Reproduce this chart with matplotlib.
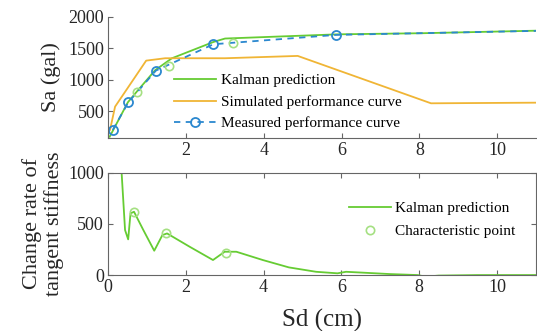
import matplotlib
matplotlib.use("Agg")
import matplotlib.pyplot as plt

plt.rcParams['font.family'] = ['Liberation Serif', 'DejaVu Serif']
plt.rcParams['mathtext.fontset'] = 'stix'

# ---- capacity curve (Sa vs Sd) ----
kalman_sd = [0.03, 0.5, 0.73, 1.2, 1.63, 2.7, 3.0, 5.9, 8.1, 11.0]
kalman_sa = [90, 640, 810, 1150, 1340, 1600, 1655, 1722, 1740, 1780]

sim_sd = [0.04, 0.17, 0.97, 1.46, 3.0, 4.87, 8.3, 11.0]
sim_sa = [200, 570, 1303, 1341, 1341, 1378, 623, 633]

meas_sd = [0.11, 0.51, 1.22, 2.70, 5.86, 11.0]
meas_sa = [198, 639, 1144, 1564, 1713, 1777]
meas_marker_sd = [0.11, 0.51, 1.22, 2.70, 5.86]
meas_marker_sa = [198, 639, 1144, 1564, 1713]

char_top_sd = [0.73, 1.56, 3.2]
char_top_sa = [809, 1223, 1580]

# ---- change rate of tangent stiffness ----
rate_sd = [0.30, 0.35, 0.44, 0.52, 0.58, 0.67, 0.91, 1.19, 1.40, 1.52, 2.1, 2.70,
           3.0, 3.3, 3.98, 4.65, 5.35, 5.9, 6.12, 6.63, 7.23, 7.96, 8.17, 8.5, 9.5, 11.0]
rate_val = [1400, 1010, 440, 349, 603, 619, 440, 238, 391, 407, 277, 147,
            228, 228, 147, 75, 32, 17, 32, 22, 10, 0, -16, -5, 0, 0]
char_sd = [0.67, 1.5, 3.04]
char_val = [619, 407, 212]

green = '#66CC33'
orange = '#F0B535'
blue = '#2B88CF'
light_green = '#A5E082'
axis_col = '#666666'
text_col = '#262626'

fig = plt.figure(figsize=(5.37, 3.31), dpi=100)
ax1 = fig.add_axes([0.202, 0.584, 0.796, 0.365])
ax2 = fig.add_axes([0.201, 0.169, 0.797, 0.309])

# top panel
ax1.plot(kalman_sd, kalman_sa, color=green, lw=1.3, label='Kalman prediction')
ax1.plot(sim_sd, sim_sa, color=orange, lw=1.3, label='Simulated performance curve')
ax1.plot(meas_sd, meas_sa, color=blue, lw=1.3, ls=(0, (3.5, 3)))
ax1.plot(meas_marker_sd, meas_marker_sa, ls='none', marker='o', ms=6.5,
         mfc='none', mec=blue, mew=1.3)
ax1.plot(char_top_sd, char_top_sa, ls='none', marker='o', ms=6,
         mfc='none', mec=light_green, mew=1.2)
meas_handle, = ax1.plot([], [], color=blue, lw=1.3, ls=(0, (3.5, 3)), marker='o',
                        ms=6.5, mfc='none', mec=blue, mew=1.3,
                        label='Measured performance curve')
ax1.set_xlim(0, 11)
ax1.set_ylim(75, 2000)
ax1.set_yticks([500, 1000, 1500, 2000])
ax1.set_xticks([0, 2, 4, 6, 8, 10])
ax1.set_xticklabels(['', '2', '4', '6', '8', '10'])
ax1.spines['top'].set_visible(False)
ax1.spines['right'].set_visible(False)
ax1.set_ylabel('Sa (gal)', fontsize=16, color=text_col, labelpad=5)
h, l = ax1.get_legend_handles_labels()
ax1.legend(h, l, loc='upper left', bbox_to_anchor=(0.14, 0.58), frameon=False,
           fontsize=11, handlelength=2.7, handletextpad=0.35, labelspacing=0.5,
           borderaxespad=0)

# bottom panel
ax2.plot(rate_sd, rate_val, color=green, lw=1.3, label='Kalman prediction')
ax2.plot(char_sd, char_val, ls='none', marker='o', ms=6, mfc='none',
         mec=light_green, mew=1.2, label='Characteristic point')
ax2.set_xlim(0, 11)
ax2.set_ylim(0, 1000)
ax2.set_yticks([0, 500, 1000])
ax2.set_xticks([0, 2, 4, 6, 8, 10])
ax2.set_xlabel('Sd (cm)', fontsize=18, color=text_col, labelpad=9)
ax2.set_ylabel('Change rate of\ntangent stiffness', fontsize=16, color=text_col,
               labelpad=3, linespacing=1.15)
ax2.legend(loc='upper left', bbox_to_anchor=(0.55, 0.78), frameon=False,
           fontsize=11, handlelength=2.7, handletextpad=0.3, labelspacing=0.6,
           borderaxespad=0)

for ax in (ax1, ax2):
    ax.tick_params(direction='in', length=3.5, width=0.8, colors=axis_col,
                   labelcolor=text_col, labelsize=13, pad=3)
    for s in ax.spines.values():
        s.set_color(axis_col)
        s.set_linewidth(0.8)
ax2.tick_params(top=True, right=True)

fig.savefig('out.png', dpi=100)
